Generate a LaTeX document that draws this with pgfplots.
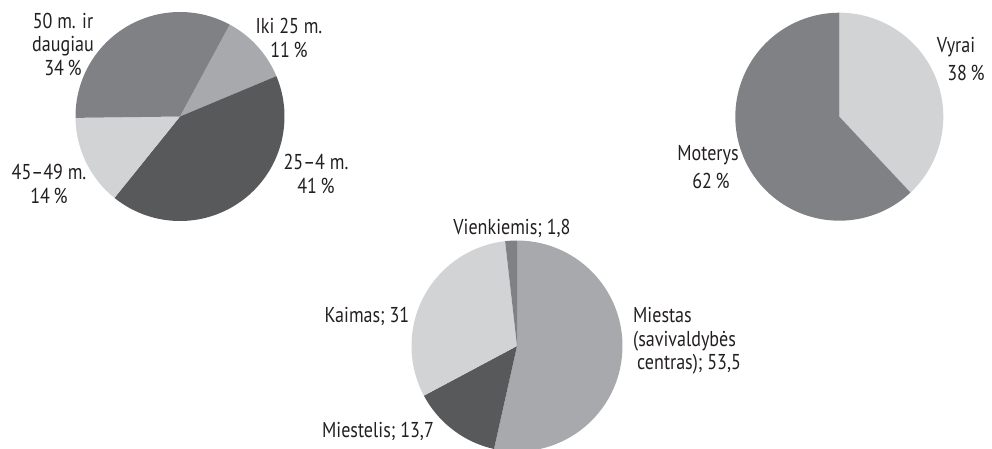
\documentclass[border=0pt]{standalone}
\usepackage{fontspec}
\setmainfont[FakeStretch=0.84]{PT Sans}
\usepackage{pgfplots}
\pgfplotsset{compat=1.18}
\definecolor{gdark}{HTML}{58595B}
\definecolor{gmid}{HTML}{808184}
\definecolor{glm}{HTML}{A7A9AC}
\definecolor{glight}{HTML}{D1D3D4}
\definecolor{txt}{HTML}{231F20}
\newcommand\pc{\kern0.17em\%}
% running start angle (degrees, clockwise slices)
\newcommand\piestart[1]{\xdef\cur{#1}}
% #1 cx, #2 cy, #3 radius, #4 value (percent), #5 colour
\newcommand\slice[5]{%
  \pgfmathsetmacro\aend{\cur}%
  \pgfmathsetmacro\abeg{\cur-3.6*#4}%
  \xdef\cur{\abeg}%
  \edef\tmp{\noexpand\addplot[fill=#5,draw=none,domain=\abeg:\aend,samples=90]
    ({#1+#3*cos(x)},{#2+#3*sin(x)}) -- (axis cs:#1,#2) -- cycle;}%
  \tmp}
\begin{document}
\begin{tikzpicture}
\begin{axis}[
  width=992pt, height=448pt, scale only axis,
  xmin=0, xmax=992, ymin=0, ymax=448,
  hide axis, clip=true,
]
% Pie 1: age groups
\piestart{61.6}
\slice{180}{331.5}{104.5}{10.8}{glm}   % Iki 25 m.
\slice{180}{331.5}{104.5}{42.1}{gdark} % 25-4 m.
\slice{180}{331.5}{104.5}{14.0}{glight}% 45-49 m.
\slice{180}{331.5}{104.5}{33.1}{gmid}  % 50 m. ir daugiau
% Pie 2: gender
\piestart{90}
\slice{839.3}{331.3}{104}{38}{glight}  % Vyrai
\slice{839.3}{331.3}{104}{62}{gmid}    % Moterys
% Pie 3: settlement
\piestart{90}
\slice{517}{102}{105.5}{53.5}{glm}     % Miestas
\slice{517}{102}{105.5}{13.7}{gdark}   % Miestelis
\slice{517}{102}{105.5}{31}{glight}    % Kaimas
\slice{517}{102}{105.5}{1.8}{gmid}     % Vienkiemis
\end{axis}
\begin{axis}[
  width=992pt, height=448pt, scale only axis,
  xmin=0, xmax=992, ymin=0, ymax=448,
  hide axis, clip=false,
]
\tikzset{lbl/.style={font=\fontsize{21.5}{23.5}\selectfont, inner sep=0pt, text=txt}}
\node[lbl, align=center] at (axis cs:63,404) {50 m. ir\\daugiau\\34\pc};
\node[lbl, align=center] at (axis cs:289,410) {Iki 25 m.\\11\pc};
\node[lbl, align=center] at (axis cs:316,274) {25–4 m.\\41\pc};
\node[lbl, align=center] at (axis cs:49,264) {45–49 m.\\14\pc};
\node[lbl] at (axis cs:956,401) {Vyrai};
\node[lbl] at (axis cs:966,375) {38\pc};
\node[lbl] at (axis cs:708,293) {Moterys};
\node[lbl] at (axis cs:711,267) {62\pc};
\node[lbl] at (axis cs:512,220) {Vienkiemis; 1,8};
\node[lbl] at (axis cs:367,132) {Kaimas; 31};
\node[lbl, align=left, anchor=west] at (axis cs:633,107) {Miestas\\(savivaldybės\\\hspace*{4pt}centras); 53,5};
\node[lbl] at (axis cs:378,17) {Miestelis; 13,7};
\end{axis}
\pgfresetboundingbox
\useasboundingbox (current axis.south west) rectangle (current axis.north east);
\end{tikzpicture}
\end{document}
